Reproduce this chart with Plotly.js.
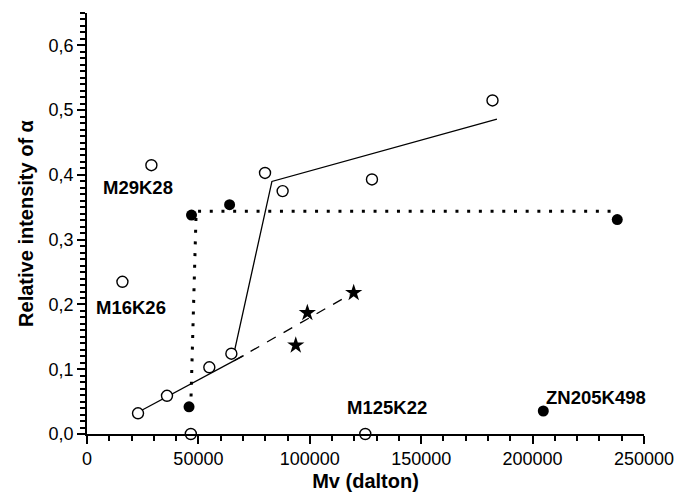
<!DOCTYPE html>
<html>
<head>
<meta charset="utf-8">
<script src="https://cdn.plot.ly/plotly-3.0.1.min.js"></script>
<style>
  html, body { margin: 0; padding: 0; background: #fff; }
  #chart { width: 678px; height: 498px; }
</style>
</head>
<body>
<div id="chart"></div>
<script>
// Open circles: Mv (dalton) vs relative intensity of alpha
const openMv = [15900, 22900, 28900, 35900, 46600, 54900, 64800, 79900, 87800, 124900, 127900, 182000];
const openAlpha = [0.235, 0.032, 0.415, 0.059, 0.0, 0.103, 0.124, 0.403, 0.375, 0.0, 0.393, 0.515];

// Filled circles
const filledMv = [45800, 46900, 64000, 204800, 238000];
const filledAlpha = [0.042, 0.338, 0.354, 0.0355, 0.331];

// Stars
const starMv = [93700, 98900, 119700];
const starAlpha = [0.137, 0.187, 0.218];

// Linear fit through the low-Mv open circles
const fitMv = [22900, 70300];
const fitAlpha = [0.0335, 0.121];

// Dashed extension along the stars
const dashMv = [66000, 118000];
const dashAlpha = [0.113, 0.215];

// Broken solid trend of the open circles
const trendMv = [66300, 83000, 184000];
const trendAlpha = [0.130, 0.390, 0.486];

// Dotted guide for the filled circles
const dotMv = [46700, 49000, 235000];
const dotAlpha = [0.058, 0.344, 0.344];

// Sample labels
const labelText = ['M29K28', 'M16K26', 'M125K22', 'ZN205K498'];
const labelMv = [23100, 19700, 134500, 228400];
const labelAlpha = [0.380, 0.196, 0.041, 0.0556];

// Axis ticks: major labels and minor step
const xTickVals = [0, 50000, 100000, 150000, 200000, 250000];
const xTickText = ['0', '50000', '100000', '150000', '200000', '250000'];
const xMinorStep = 10000;
const yTickVals = [0, 0.1, 0.2, 0.3, 0.4, 0.5, 0.6];
const yTickText = ['0,0', '0,1', '0,2', '0,3', '0,4', '0,5', '0,6'];
const yMinorStep = 0.01;

const ink = 'black';

const traces = [
  { x: dotMv, y: dotAlpha, mode: 'lines', line: { color: ink, width: 3, dash: '3px,8.7px' }, hoverinfo: 'skip' },
  { x: fitMv, y: fitAlpha, mode: 'lines', line: { color: ink, width: 1.3 }, hoverinfo: 'skip' },
  { x: dashMv, y: dashAlpha, mode: 'lines', line: { color: ink, width: 1.3, dash: '10px,9px' }, hoverinfo: 'skip' },
  { x: trendMv, y: trendAlpha, mode: 'lines', line: { color: ink, width: 1.3 }, hoverinfo: 'skip' },
  { x: openMv, y: openAlpha, mode: 'markers', cliponaxis: false,
    marker: { symbol: 'circle', size: 11, color: 'white', line: { color: ink, width: 1.4 } } },
  { x: filledMv, y: filledAlpha, mode: 'markers', cliponaxis: false,
    marker: { symbol: 'circle', size: 11, color: ink, line: { width: 0 } } },
  { x: starMv, y: starAlpha, mode: 'markers',
    marker: { symbol: 'star', size: 13, color: ink, line: { width: 0 } } }
];

const annotations = labelText.map((t, i) => ({
  text: '<b>' + t + '</b>', x: labelMv[i], y: labelAlpha[i], xref: 'x', yref: 'y',
  showarrow: false, xanchor: 'center', yanchor: 'middle',
  font: { family: 'Liberation Sans, Arial, sans-serif', size: 18.5, color: ink }
}));

const layout = {
  width: 678, height: 498,
  margin: { l: 87, r: 34, t: 13, b: 64 },
  showlegend: false,
  font: { family: 'Liberation Sans, Arial, sans-serif', color: ink },
  xaxis: {
    range: [0, 250000],
    showgrid: false, zeroline: false,
    showline: true, linecolor: ink, linewidth: 1.5,
    ticks: 'outside', ticklen: 8, tickwidth: 1.8, tickcolor: 'black',
    tickvals: xTickVals, ticktext: xTickText,
    tickfont: { size: 18, color: ink },
    minor: { dtick: xMinorStep, ticks: 'outside', ticklen: 5, tickwidth: 1.5, tickcolor: 'black' },
    title: { text: '<b>Mv (dalton)</b>', font: { size: 20, color: ink }, standoff: 6 }
  },
  yaxis: {
    range: [0, 0.65],
    showgrid: false, zeroline: false,
    showline: true, linecolor: ink, linewidth: 1.5,
    ticks: 'outside', ticklen: 8, tickwidth: 1.8, tickcolor: 'black',
    tickvals: yTickVals, ticktext: yTickText,
    tickfont: { size: 18, color: ink },
    minor: { dtick: yMinorStep, ticks: 'outside', ticklen: 5, tickwidth: 1.5, tickcolor: 'black' },
    title: { text: '<b>Relative intensity of α</b>', font: { size: 20, color: ink }, standoff: 10 }
  },
  annotations: annotations
};

Plotly.newPlot('chart', traces, layout, { displayModeBar: false });
</script>
</body>
</html>
